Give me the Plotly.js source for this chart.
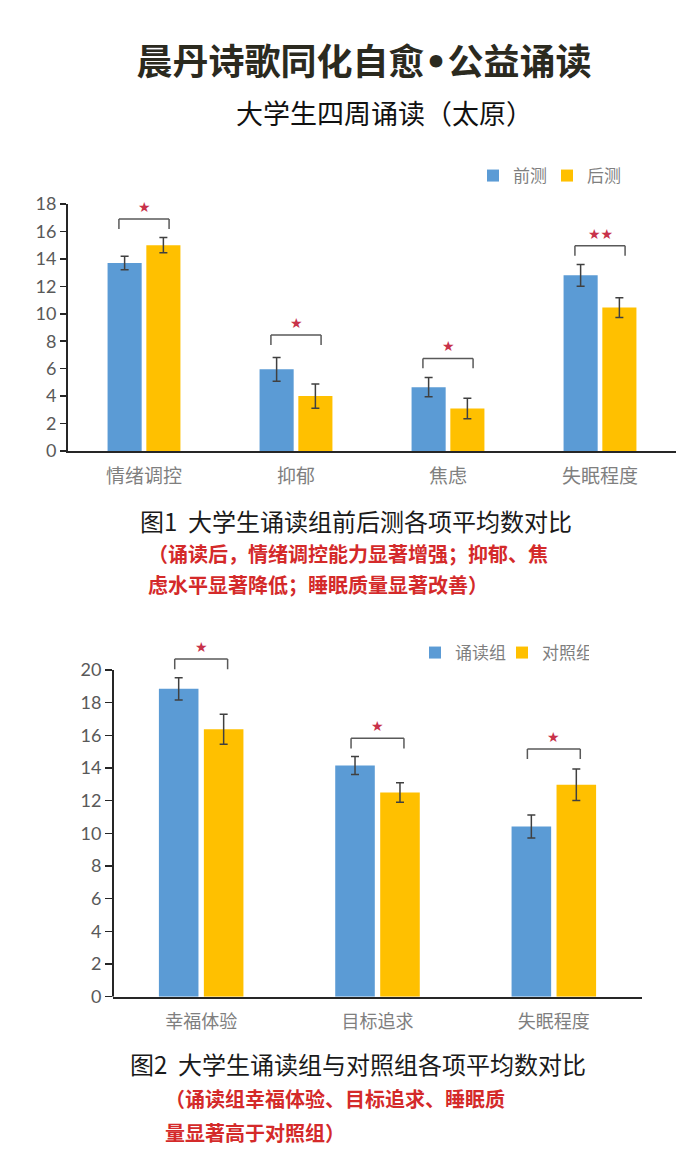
<!DOCTYPE html>
<html><head><meta charset="utf-8">
<script src="https://cdn.plot.ly/plotly-3.0.1.min.js"></script>
<style>html,body{margin:0;padding:0;background:#fff}#chart{width:700px;height:1175px}</style>
</head><body><div id="chart"></div>
<script>
// ---- Figure 1 data ----
const categories1 = ['情绪调控', '抑郁', '焦虑', '失眠程度'];
const preValues = [13.7, 5.95, 4.65, 12.8];
const preErrors = [0.5, 0.87, 0.7, 0.8];
const postValues = [15.0, 4.0, 3.1, 10.45];
const postErrors = [0.55, 0.88, 0.75, 0.72];
const sigMarks1 = ['★', '★', '★', '★★'];
const bracketTop1 = [16.9, 8.45, 6.75, 14.95];
const tickVals1 = [0, 2, 4, 6, 8, 10, 12, 14, 16, 18];

// ---- Figure 2 data ----
const categories2 = ['幸福体验', '目标追求', '失眠程度'];
const readValues = [18.85, 14.15, 10.42];
const readErrors = [0.68, 0.55, 0.7];
const controlValues = [16.38, 12.5, 12.98];
const controlErrors = [0.92, 0.6, 0.96];
const sigMarks2 = ['★', '★', '★'];
const bracketTop2 = [20.67, 15.82, 15.17];
const tickVals2 = [0, 2, 4, 6, 8, 10, 12, 14, 16, 18, 20];

const BLUE = '#5b9bd5', GOLD = '#ffc000', ERR = '#404040';
const CJK = '"Noto Sans CJK SC", sans-serif';

function errObj(arr) {
  return {type: 'data', array: arr, visible: true, color: ERR, thickness: 1.5, width: 4};
}

const traces = [
  {type: 'bar', name: '前测', x: categories1, y: preValues, error_y: errObj(preErrors),
   marker: {color: BLUE}, xaxis: 'x', yaxis: 'y', legend: 'legend'},
  {type: 'bar', name: '后测', x: categories1, y: postValues, error_y: errObj(postErrors),
   marker: {color: GOLD}, xaxis: 'x', yaxis: 'y', legend: 'legend'},
  {type: 'bar', name: '诵读组', x: categories2, y: readValues, error_y: errObj(readErrors),
   marker: {color: BLUE}, xaxis: 'x2', yaxis: 'y2', legend: 'legend2'},
  {type: 'bar', name: '对照组', x: categories2, y: controlValues, error_y: errObj(controlErrors),
   marker: {color: GOLD}, xaxis: 'x2', yaxis: 'y2', legend: 'legend2'}
];

const shapes = [];
const annotations = [];
function addBrackets(tops, marks, xref, yref, halfW, drop, shiftPx) {
  tops.forEach((t, i) => {
    const line = {color: '#595959', width: 1.5};
    shapes.push({type: 'line', xref, yref, x0: i - halfW, x1: i - halfW, y0: t - drop, y1: t, line});
    shapes.push({type: 'line', xref, yref, x0: i - halfW, x1: i + halfW, y0: t, y1: t, line});
    shapes.push({type: 'line', xref, yref, x0: i + halfW, x1: i + halfW, y0: t - drop, y1: t, line});
    annotations.push({xref, yref, x: i, y: t, text: marks[i], showarrow: false,
      yanchor: 'middle', yshift: shiftPx, font: {family: 'DejaVu Sans', size: 14, color: '#c8324a'}});
  });
}
addBrackets(bracketTop1, sigMarks1, 'x', 'y', 0.165, 0.72, 12);
addBrackets(bracketTop2, sigMarks2, 'x2', 'y2', 0.15, 0.62, 12);

// y-axis line of figure 2 (stops at 20)
shapes.push({type: 'line', xref: 'x2 domain', yref: 'y2', x0: 0, x1: 0, y0: 0, y1: 20,
  line: {color: '#262626', width: 2}});

function textAnn(text, x, y, size, color, xanchor, weight) {
  annotations.push({xref: 'paper', yref: 'paper', x, y, text, showarrow: false,
    xanchor: xanchor, yanchor: 'middle',
    font: {family: CJK, size, color, weight: weight || 'normal'}});
}
textAnn('大学生四周诵读（太原）', 384 / 700, 1 - 112 / 1175, 27, '#111111', 'center', 'normal');
textAnn('图1  大学生诵读组前后测各项平均数对比', 356 / 700, 1 - 520 / 1175, 24, '#1a1a1a', 'center');
textAnn('（诵读后，情绪调控能力显著增强；抑郁、焦', 146 / 700, 1 - 553 / 1175, 20, '#d42a2a', 'left', 'bold');
textAnn('虑水平显著降低；睡眠质量显著改善）', 146 / 700, 1 - 585 / 1175, 20, '#d42a2a', 'left', 'bold');
textAnn('图2  大学生诵读组与对照组各项平均数对比', 358 / 700, 1 - 1063 / 1175, 24, '#1a1a1a', 'center');
textAnn('（诵读组幸福体验、目标追求、睡眠质', 163 / 700, 1 - 1098 / 1175, 20, '#d42a2a', 'left', 'bold');
textAnn('量显著高于对照组）', 163 / 700, 1 - 1132 / 1175, 20, '#d42a2a', 'left', 'bold');

const tickFont = {family: 'Lato, "Liberation Sans", sans-serif', size: 18, color: '#595959'};
const catFont = {family: CJK, size: 19, color: '#7f7f7f'};

const layout = {
  width: 700, height: 1175,
  margin: {l: 0, r: 0, t: 0, b: 0},
  paper_bgcolor: '#ffffff', plot_bgcolor: '#ffffff',
  barmode: 'group', bargap: 0.49, bargroupgap: 0.12,
  title: {text: '晨丹诗歌同化自愈<span style="font-family:DejaVu Sans">•</span>公益诵读',
    x: 364 / 700, xanchor: 'center',
    y: 1 - 62 / 1175, yanchor: 'middle', yref: 'container',
    font: {family: CJK, size: 36, color: '#2b2a1f', weight: 'bold'}},
  showlegend: true,
  legend: {orientation: 'h', x: 473 / 700, xanchor: 'left', y: 1 - 176 / 1175, yanchor: 'middle',
    entrywidth: 29, entrywidthmode: 'pixels',
    font: {family: CJK, size: 17, color: '#7f7f7f'}, bgcolor: 'rgba(0,0,0,0)'},
  legend2: {orientation: 'h', x: 415 / 700, xanchor: 'left', y: 1 - 653 / 1175, yanchor: 'middle',
    entrywidth: 42, entrywidthmode: 'pixels',
    font: {family: CJK, size: 17, color: '#7f7f7f'}, bgcolor: 'rgba(0,0,0,0)'},
  xaxis: {domain: [68 / 700, 676 / 700], anchor: 'y', type: 'category',
    showline: true, linecolor: '#262626', linewidth: 2, ticks: '', showgrid: false, zeroline: false,
    tickfont: catFont, ticklabelstandoff: 7, fixedrange: true},
  yaxis: {domain: [1 - 451 / 1175, 1 - 204 / 1175], anchor: 'x', range: [0, 18],
    tickvals: tickVals1, showline: true, linecolor: '#262626', linewidth: 2,
    ticks: 'outside', ticklen: 6, tickwidth: 1.5, tickcolor: '#262626',
    showgrid: false, zeroline: false, tickfont: tickFont, fixedrange: true},
  xaxis2: {domain: [113 / 700, 642 / 700], anchor: 'y2', type: 'category',
    showline: true, linecolor: '#262626', linewidth: 2, ticks: '', showgrid: false, zeroline: false,
    tickfont: {family: CJK, size: 18, color: '#7f7f7f'}, ticklabelstandoff: 8, fixedrange: true},
  yaxis2: {domain: [1 - 996.7 / 1175, 1 - 637.4 / 1175], anchor: 'x2', range: [0, 22],
    tickvals: tickVals2, showline: false,
    ticks: 'outside', ticklen: 7, tickwidth: 1.5, tickcolor: '#262626',
    showgrid: false, zeroline: false, tickfont: tickFont, fixedrange: true},
  shapes, annotations
};

Plotly.newPlot('chart', traces, layout, {displayModeBar: false, staticPlot: true});
</script>
</body></html>
